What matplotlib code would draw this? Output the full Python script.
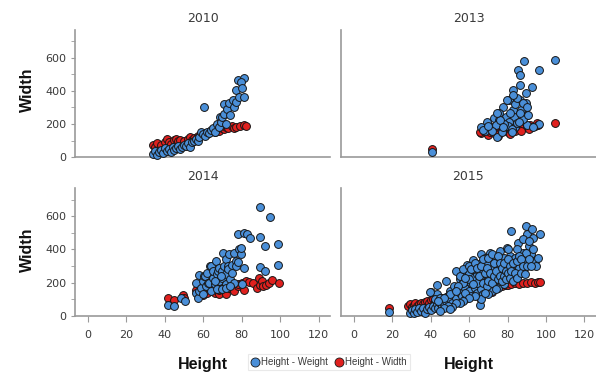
import numpy as np
import matplotlib
matplotlib.use("Agg")
import matplotlib.pyplot as plt
from matplotlib.ticker import MultipleLocator
from matplotlib.lines import Line2D

years = ["2010", "2013", "2014", "2015"]

weight_2010 = [(34, 20), (35, 35), (36, 15), (37, 30), (38, 42), (39, 25), (40, 55), (41, 35), (42, 48),
               (43, 30), (44, 60), (45, 42), (46, 55), (47, 68), (48, 50), (49, 58), (50, 75), (51, 65),
               (52, 82), (53, 60), (54, 90), (55, 95), (56, 110), (57, 100), (58, 122), (59, 153), (60, 140),
               (60.5, 300), (61, 130), (62, 150), (63, 145), (64, 162), (65, 175), (66, 150), (67, 200),
               (68, 182), (68.5, 244), (69, 212), (70, 240), (71, 262), (71, 320), (72, 200), (72.5, 292),
               (73.5, 325), (74, 252), (75.3, 345), (76, 302), (77, 332), (78, 467), (81.3, 477), (79.5, 455),
               (77, 406), (80.4, 416), (78.7, 366), (81.3, 366)]
width_2010 = [(34, 75), (35, 58), (36, 82), (38, 70), (40, 88), (41, 110), (42, 92), (43, 80), (45, 102),
              (46, 112), (47, 95), (48, 106), (50, 100), (52, 112), (53, 120), (54, 106), (55, 116), (57, 126),
              (58, 120), (60, 132), (61, 145), (62, 140), (63, 152), (65, 156), (66, 150), (67, 166), (68, 160),
              (70, 176), (71, 168), (72, 182), (73, 175), (75, 186), (76, 176), (77, 181), (79, 186), (81, 191),
              (82, 188)]

weight_2013 = [(40.8, 28), (88.5, 582), (104.7, 588), (85.6, 527), (86.5, 497), (96.2, 527), (86.5, 436),
               (92.5, 422), (83, 406), (89.6, 386), (80.9, 345), (77.4, 305), (86.5, 345), (89.6, 325),
               (75.7, 265), (82.7, 285), (87, 285), (72.9, 234), (79, 244), (83.3, 244), (90.3, 255),
               (69.5, 214), (75.7, 224), (80.9, 214), (66.1, 184), (71.2, 184), (74, 194), (80, 190), (84, 184),
               (90, 194), (96.2, 200), (74.6, 123), (82.4, 170), (68, 160), (77, 150), (85, 205), (88, 230),
               (81, 265), (78, 200), (72, 160), (84, 320), (84.7, 356), (83, 376), (88.2, 325), (89.9, 305),
               (67.4, 164), (76, 224), (77.8, 184), (82.1, 154), (86.5, 265), (90.8, 255), (74.3, 265),
               (79.6, 345), (86, 210), (70, 190), (93, 180)]
width_2013 = [(40.8, 46), (66.1, 143), (65.6, 154), (68, 150), (70, 135), (71, 154), (72, 160), (74, 140),
              (76, 164), (76.5, 150), (78, 165), (80, 150), (81.3, 164), (82, 172), (84, 160), (86, 175),
              (86.5, 185), (88, 180), (90, 186), (91.7, 194), (92, 180), (94, 190), (95.1, 204), (96, 195),
              (104.7, 204), (70, 168), (75, 130), (81, 140), (87, 160), (91, 170), (84, 190), (79, 185),
              (73, 148)]

weight_2014 = [(41.6, 67), (45, 57), (48.5, 107), (50.3, 87), (56, 198), (56, 137), (57, 107), (58, 150),
               (58, 249), (59, 170), (60, 210), (60.6, 238), (60, 130), (61, 240), (61.5, 180), (62, 260),
               (62.3, 198), (63, 200), (63.5, 300), (64, 150), (64, 299), (64.9, 230), (65, 270), (66, 190),
               (66.7, 329), (67, 250), (67.6, 269), (68, 210), (68.4, 289), (69, 160), (70, 230), (70, 270),
               (70.1, 380), (71, 300), (71.8, 190), (72, 250), (72, 340), (72.8, 299), (73, 280), (73.6, 370),
               (74, 220), (75, 309), (75, 260), (76, 380), (76, 200), (77, 330), (77, 299), (77.9, 325),
               (78.8, 400), (79.6, 370), (79.6, 410), (77.9, 491), (81.3, 501), (83, 491), (84.2, 467),
               (81.3, 289), (80, 190), (89.6, 657), (94.6, 596), (89.6, 475), (92, 420), (99.1, 430),
               (89.6, 293), (91.9, 273), (99.1, 309), (67, 160), (70, 160), (72, 170), (74, 180), (66, 210),
               (69, 240)]
width_2014 = [(41.6, 107), (45, 97), (49.4, 127), (50, 110), (56.3, 158), (59.8, 127), (62, 140), (64.9, 168),
              (66, 140), (68, 130), (68.4, 158), (70.1, 188), (71.8, 158), (72, 130), (73.6, 168), (74, 200),
              (75.3, 188), (76, 150), (77.9, 178), (78, 190), (80, 200), (81.3, 158), (82, 210), (84, 205),
              (86, 200), (88, 170), (89.1, 228), (89.6, 188), (90.5, 208), (91, 178), (92.6, 188), (94, 200),
              (96, 218), (99.5, 198), (60, 160)]

weight_2015 = [(18, 26), (29, 20), (30, 35), (31, 15), (32, 40), (33, 25), (34, 45), (35, 30), (36, 50),
               (37, 20), (38, 40), (39, 55), (40, 35), (41, 60), (42, 45), (43, 70), (44, 50), (45, 80), (46, 60),
               (40, 147), (43, 130), (42, 100), (45, 110), (47, 70), (48, 90), (48, 208), (49, 120), (50, 100),
               (50, 150), (51, 80), (52, 130), (52, 180), (53, 110), (53, 269), (54, 160), (55, 140), (55, 220),
               (56, 120), (56, 190), (57, 250), (58, 170), (58, 100), (59, 210), (59, 309), (60, 150), (60, 260),
               (61, 200), (61, 120), (62, 339), (62, 230), (63, 170), (63, 280), (64, 140), (64, 250), (65, 200),
               (65, 310), (65.6, 67), (66, 370), (66, 230), (66, 160), (67, 270), (67, 130), (68, 300), (68, 200),
               (69, 240), (69, 340), (70, 180), (70, 260), (70.8, 380), (71, 220), (71, 300), (72, 150), (72, 330),
               (72, 250), (73, 200), (73, 280), (74, 350), (74, 230), (75, 170), (75, 300), (75, 260), (76, 390),
               (76, 210), (77, 320), (77, 250), (78, 280), (78, 190), (79.5, 410), (79, 340), (80, 230), (80, 300),
               (81, 260), (81, 360), (82, 511), (82, 320), (83, 280), (83, 240), (84, 350), (84, 300), (85.5, 441),
               (85, 260), (86, 330), (87, 300), (88, 380), (88, 270), (89.6, 541), (89.9, 491), (90, 380),
               (89, 330), (91.3, 420), (92.2, 370), (92.9, 521), (93.4, 471), (94, 330), (95, 300), (96.9, 491),
               (96, 350), (85, 400), (80, 400), (75, 330), (68, 350), (62, 280), (57, 200), (54, 180), (50, 130),
               (47, 110), (44, 90), (60, 220), (65, 270), (70, 320), (76, 280), (82, 220), (74, 300), (78, 350),
               (72, 280), (70, 240), (86, 290), (64, 200), (58, 140), (53, 150), (39.6, 147), (43.1, 188),
               (89.6, 380), (88, 460), (91, 450), (93, 400),
               (55, 240), (57, 280), (58, 230), (60, 300), (61, 280), (62, 190), (63, 320), (64, 290), (65, 240),
               (66, 300), (67, 340), (67, 200), (68, 260), (69, 290), (69, 180), (70, 210), (70, 350), (71, 260),
               (72, 200), (72, 370), (73, 320), (73, 240), (74, 270), (75, 220), (75, 360), (76, 320), (76, 240),
               (77, 290), (77, 210), (78, 320), (78, 240), (79, 270), (79, 220), (80, 260), (80, 340), (81, 300),
               (81, 230), (82, 270), (83, 320), (83, 210), (84, 260), (85, 330), (85, 230), (86, 360), (87, 260),
               (87, 340), (88, 300), (89, 250), (90, 300), (91, 340), (92, 300), (66, 100), (63, 120), (60, 110),
               (57, 90), (55, 80), (53, 75), (51, 55), (49, 60), (47, 45), (45, 30), (50, 40), (70, 130),
               (74, 160), (68, 140)]
width_2015 = [(18, 50), (28, 60), (29, 70), (30, 55), (31, 65), (32, 75), (33, 60), (34, 70), (35, 80), (36, 70),
              (37, 85), (38, 90), (39, 80), (40, 95), (41, 100), (42, 90), (44, 105), (45, 100), (46, 110),
              (48, 115), (50, 120), (52, 125), (54, 130), (56, 135), (58, 140), (60, 145), (62, 150), (64, 155),
              (65.6, 107), (66, 160), (68, 160), (70, 165), (72, 147), (73, 170), (75, 175), (77, 180), (79, 188),
              (80, 185), (82, 190), (84, 198), (86, 195), (88, 200), (90, 198), (92, 204), (94, 200), (96, 204),
              (97, 205)]

weight_sets = [weight_2010, weight_2013, weight_2014, weight_2015]
width_sets = [width_2010, width_2013, width_2014, width_2015]

x_ticks = [0, 20, 40, 60, 80, 100, 120]
y_ticks = [0, 200, 400, 600]

blue = "#4a8fd8"
red = "#e0201e"
edge = "#161616"
axis_gray = "#9a9a9a"
text_gray = "#3a3a3a"

fig = plt.figure(figsize=(5.96, 3.73), dpi=100)

# axes boxes in figure fractions: left, bottom, width, height
boxes = [
    [0.1258, 0.579, 0.428, 0.341],
    [0.572, 0.579, 0.428, 0.341],
    [0.1258, 0.153, 0.428, 0.343],
    [0.572, 0.153, 0.428, 0.343],
]

for i, (year, wt, wd) in enumerate(zip(years, weight_sets, width_sets)):
    ax = fig.add_axes(boxes[i])
    wt = np.array(wt)
    wd = np.array(wd)
    ax.scatter(wd[:, 0], wd[:, 1], s=32, c=red, edgecolors=edge, linewidths=0.7, zorder=3, clip_on=False)
    ax.scatter(wt[:, 0], wt[:, 1], s=32, c=blue, edgecolors=edge, linewidths=0.7, zorder=4, clip_on=False)

    ax.set_xlim(-6.8, 126)
    ax.set_ylim(0, 770)
    ax.set_title(year, fontsize=9, color=text_gray, pad=6)

    for side in ["top", "right"]:
        ax.spines[side].set_visible(False)
    for side in ["left", "bottom"]:
        ax.spines[side].set_color(axis_gray)
        ax.spines[side].set_linewidth(1.2)

    ax.set_xticks(x_ticks)
    ax.set_yticks(y_ticks)
    ax.yaxis.set_minor_locator(MultipleLocator(100))
    ax.tick_params(axis="both", which="both", colors=axis_gray, labelcolor=text_gray, labelsize=8)
    ax.tick_params(axis="x", length=4, pad=6)
    ax.tick_params(axis="y", which="both", length=3, pad=3)

    row, col = divmod(i, 2)
    if row == 0:
        ax.tick_params(axis="x", length=0, labelbottom=False)
    if col == 1:
        ax.tick_params(axis="y", which="both", length=0, labelleft=False)

label_font = dict(family="Liberation Sans", fontsize=11.5, fontweight="bold", color="#111111")
fig.text(27 / 596, 1 - 90 / 373, "Width", rotation=90, ha="center", va="center", **label_font)
fig.text(27 / 596, 1 - 250 / 373, "Width", rotation=90, ha="center", va="center", **label_font)
fig.text(203 / 596, 1 - 364 / 373, "Height", ha="center", va="center", **label_font)
fig.text(469 / 596, 1 - 364 / 373, "Height", ha="center", va="center", **label_font)

handles = [
    Line2D([], [], marker="o", linestyle="none", markersize=6.5, markerfacecolor=blue,
           markeredgecolor=edge, markeredgewidth=0.6, label="Height - Weight"),
    Line2D([], [], marker="o", linestyle="none", markersize=6.5, markerfacecolor=red,
           markeredgecolor=edge, markeredgewidth=0.6, label="Height - Width"),
]
leg = fig.legend(handles=handles, loc="center", bbox_to_anchor=(329 / 596, 1 - 362 / 373), ncol=2,
                 frameon=True, fancybox=False, handlelength=0.8, handletextpad=0.2, columnspacing=0.8,
                 borderpad=0.3, prop={"family": "Liberation Sans", "size": 7})
leg.get_frame().set_edgecolor("#e4e4e4")
leg.get_frame().set_linewidth(0.8)
for t in leg.get_texts():
    t.set_color(text_gray)

fig.savefig("out.png", dpi=100)
